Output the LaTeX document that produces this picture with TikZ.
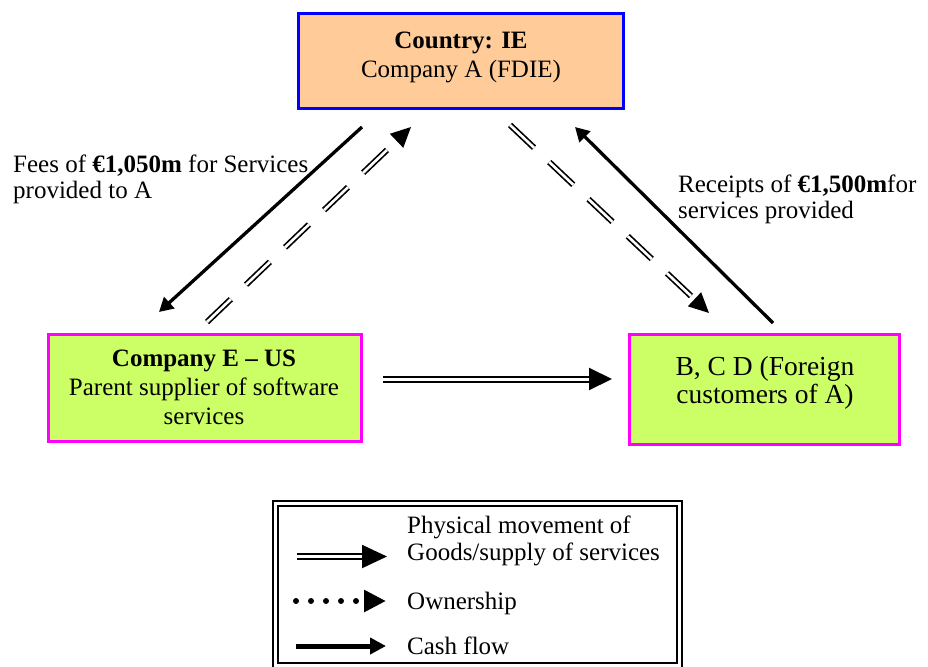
\documentclass[tikz,border=0pt]{standalone}
\usepackage{fontspec}
\setmainfont{Liberation Serif}
\usetikzlibrary{arrows.meta,calc}

\definecolor{peach}{RGB}{255,204,153}
\definecolor{boxgreen}{RGB}{204,255,102}
\definecolor{edgeblue}{RGB}{0,0,255}
\definecolor{edgepink}{RGB}{255,0,255}

\begin{document}
\begin{tikzpicture}[x=1pt,y=-1pt,
  box/.style={draw, line width=3pt, inner sep=0pt},
  txt/.style={font=\fontsize{25}{29}\selectfont, align=center, inner sep=0pt},
  lbl/.style={font=\fontsize{25}{26}\selectfont, align=left, inner sep=0pt, anchor=west},
  legtxt/.style={font=\fontsize{25}{27}\selectfont, align=left, inner sep=0pt},
  cash/.style={line width=3.3pt, -{Triangle[length=14pt,width=15pt]}},
  own/.style={line width=1.7pt, double, double distance=2.6pt,
    dash pattern=on 33pt off 21pt, -{Triangle[length=20pt,width=19pt]}},
  supply/.style={line width=2pt, double, double distance=3pt,
    -{Triangle[length=23pt,width=22pt]}},
]
\useasboundingbox (0,0) rectangle (928,666);

% the three parties
\node[box, draw=edgeblue, fill=peach, minimum width=325pt, minimum height=95pt] (top) at (461,61) {};
\node[txt] (toptext) at (461,57.7) {\textbf{Country: IE}\\Company A (FDIE)};

\node[box, draw=edgepink, fill=boxgreen, minimum width=313pt, minimum height=107pt] (left) at (205,388) {};
\node[txt] (lefttext) at (204,387.5) {\textbf{Company E – US}\\Parent supplier of software\\services};

\node[box, draw=edgepink, fill=boxgreen, minimum width=270pt, minimum height=110pt] (right) at (764.5,389.5) {};
\node[txt, font=\fontsize{27.5}{28}\selectfont] (righttext) at (765,382.5) {B, C D (Foreign\\customers of A)};

% flow labels
\node[lbl] (fees) at (13,179) {Fees of \textbf{€1,050m} for Services\\provided to A};
\node[lbl] (receipts) at (678,199) {Receipts of \textbf{€1,500m}for\\services provided};

% flows between the parties
\draw[cash] ([xshift=65pt,yshift=-17pt]top.south west) -- ([xshift=112pt,yshift=21pt]left.north west);
\draw[own]  ([xshift=160pt,yshift=11pt]left.north west) -- ([xshift=114pt,yshift=-17pt]top.south west);
\draw[own]  ([xshift=213pt,yshift=-15pt]top.south west) -- ([xshift=81pt,yshift=20pt]right.north west);
\draw[cash] ([xshift=145pt,yshift=10pt]right.north west) -- ([xshift=278pt,yshift=-17pt]top.south west);
\coordinate (sup) at ([xshift=20pt,yshift=9pt]left.east);
\draw[supply] (sup) -- ($(sup -| right.west)+(-16,0)$);

% key
\node[draw, line width=2pt, double, double distance=2.8pt, inner sep=0pt,
  minimum width=404.6pt, minimum height=162.15pt] (legend) at (477.5,584.3) {};

\coordinate (ka1) at (297,556.5); \coordinate (kb1) at (387,556.5);
\coordinate (ka2) at (296,601);   \coordinate (kb2) at (386,601);
\coordinate (ka3) at (296,646);   \coordinate (kb3) at (386,646);
\draw[supply, -{Triangle[length=25pt,width=23pt]}] (ka1) -- (kb1);
\draw[line width=6pt, line cap=round, dash pattern=on 0pt off 15pt,
  -{Triangle[length=22pt,width=21pt]}] (ka2) -- (kb2);
\draw[line width=5pt, -{Triangle[length=16pt,width=16pt]}] (ka3) -- (kb3);

\node[legtxt, anchor=west] (keysupply) at (407,540.7) {Physical movement of\\Goods/supply of services};
\node[legtxt, anchor=base west] (keyown) at (407,609) {Ownership};
\node[legtxt, anchor=base west] (keycash) at (407,654) {Cash flow};
\end{tikzpicture}
\end{document}
